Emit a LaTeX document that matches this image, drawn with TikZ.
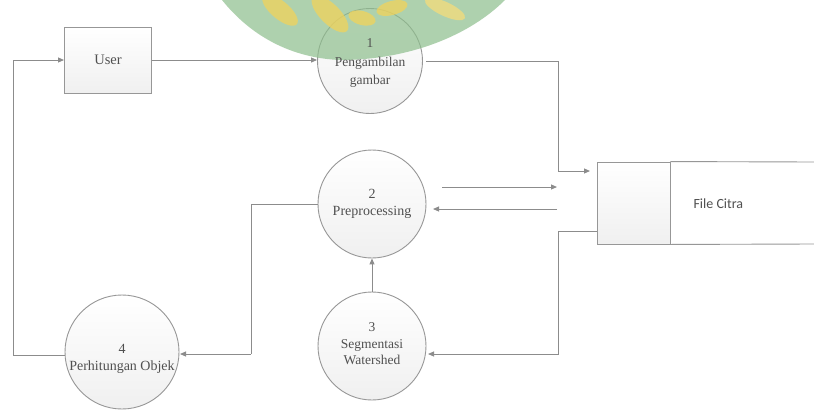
\documentclass[tikz,border=0pt]{standalone}
\usepackage{fontspec}
\setmainfont{Liberation Serif}
\newfontfamily\carl{Carlito}
\usetikzlibrary{arrows.meta,calc}
\definecolor{ln}{HTML}{8C8C8C}
\definecolor{tx}{HTML}{505050}
\definecolor{wmg}{HTML}{8DBE8C}
\definecolor{wmy}{HTML}{F2D35A}
\tikzset{
  proc/.style={circle,draw=ln!90,line width=0.9pt,top color=white,bottom color=black!6,
    text=tx,align=center,inner sep=0pt},
  lbl/.style={text=tx,align=center,font=\fontsize{14}{17}\selectfont},
  ent/.style={rectangle,draw=ln!90,line width=0.9pt,top color=white,bottom color=black!6,
    text=tx,font=\fontsize{14.5}{16}\selectfont},
  flow/.style={draw=ln,line width=1pt},
  arr/.style={flow,-{Triangle[length=6pt,width=5pt]}},
}
\begin{document}
\begin{tikzpicture}[x=1pt,y=-1pt]
\useasboundingbox (0,0) rectangle (814,410);
\fill[white] (0,0) rectangle (814,410);
% nodes
\node[ent,minimum width=87pt,minimum height=66pt] (user) at (108,60) {User};
\node[proc,minimum size=105pt] (c1) at (370,61) {};
\node[proc,minimum size=108pt] (c2) at (372,204) {};
\node[lbl] (t2) at (372,204) {2\\Preprocessing};
\node[proc,minimum size=108pt] (c3) at (372,346) {};
\node[lbl,font=\fontsize{13.5}{16.5}\selectfont] (t3) at (372,344) {3\\Segmentasi\\Watershed};
\node[proc,minimum size=114pt] (c4) at (122,352) {};
\node[lbl] (t4) at (122,359) {4\\Perhitungan Objek};
% data store
\node[ent,minimum width=73pt,minimum height=82pt] (fs) at (633.5,203) {};
\draw[draw=ln!90,line width=0.9pt] (fs.north east) -- (814,162);
\draw[draw=ln!90,line width=0.9pt] (fs.south east) -- (814,244);
\node[text=tx,font=\carl\fontsize{14}{16}\selectfont,anchor=west] (fc) at (690,204) {File Citra};
% coordinates
\coordinate (a1) at (426,61);
\coordinate (a2) at (558,61);
\coordinate (a3) at (558,171);
\coordinate (a4) at (590,171);
\coordinate (b1) at (442,187);
\coordinate (b2) at (557,187);
\coordinate (b3) at (557,209);
\coordinate (b4) at (433,209);
\coordinate (d1) at (558,231);
\coordinate (d2) at (558,354);
\coordinate (d3) at (428,354);
\coordinate (e1) at (251,204);
\coordinate (e2) at (251,354);
\coordinate (e3) at (180,354);
\coordinate (g1) at (13,355);
\coordinate (g2) at (13,60);
\coordinate (g3) at (64,60);
% connectors
\draw[arr] (user.east) -- (user.east -| c1.west);
\draw[arr] (a1) -- (a2) -- (a3) -- (a4);
\draw[arr] (b1) -- (b2);
\draw[arr] (b3) -- (b4);
\draw[arr] (fs.west |- d1) -- (d1) -- (d2) -- (d3);
\draw[arr] (c3.north) -- (c2.south);
\draw[flow] (c2.west) -- (e1) -- (e2);
\draw[arr] (e2) -- (e3);
\draw[arr] (c4.west |- g1) -- (g1) -- (g2) -- (g3);
% watermark
\begin{scope}[opacity=0.7]
\fill[wmg] (222,0) .. controls (250,35) and (290,58) .. (340,60) .. controls (410,60) and (470,35) .. (505,0) -- cycle;
\end{scope}
\begin{scope}[opacity=0.75]
\fill[wmy,rotate around={-40:(280,10)}] (280,10) ellipse (22 and 9);
\fill[wmy,rotate around={-45:(330,14)}] (330,14) ellipse (24 and 10);
\fill[wmy,rotate around={-15:(362,18)}] (362,18) ellipse (14 and 7);
\fill[wmy,rotate around={15:(392,8)}] (392,8) ellipse (16 and 7);
\fill[wmy!80!white,rotate around={-25:(445,9)}] (445,9) ellipse (22 and 7);
\end{scope}
\node[lbl,font=\fontsize{13.5}{18.5}\selectfont] (t1) at (370,63) {1\\Pengambilan\\gambar};
\end{tikzpicture}
\end{document}
